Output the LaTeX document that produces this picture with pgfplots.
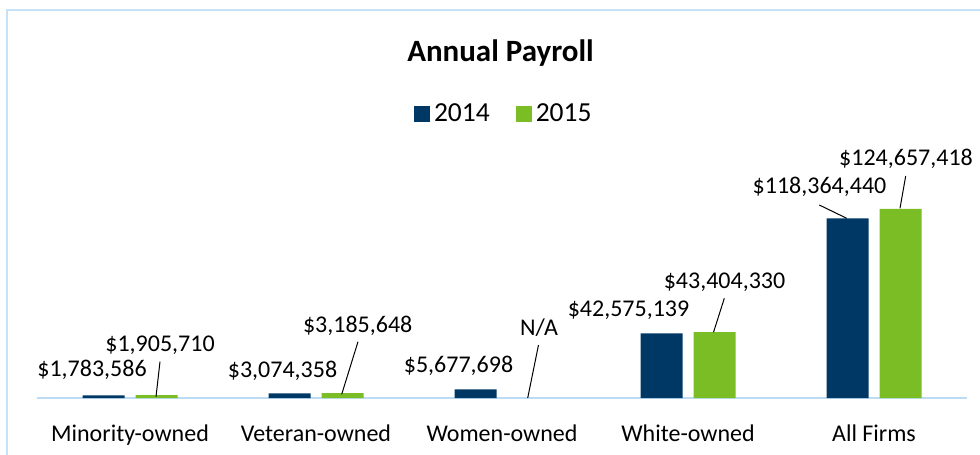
\documentclass[border=0pt]{standalone}
\usepackage{fontspec}
\setmainfont{Carlito}
\usepackage{pgfplots}
\pgfplotsset{compat=1.18}
\definecolor{navy}{HTML}{003865}
\definecolor{lgreen}{HTML}{7ABD24}
\definecolor{framecol}{HTML}{C6E2F8}
\definecolor{basecol}{HTML}{BDDCF4}
\tikzset{dl/.style={anchor=base, inner sep=0pt, font=\fontsize{12}{14}\selectfont}}
\begin{document}
\begin{tikzpicture}[x=0.5pt,y=0.5pt]
\useasboundingbox (0,0) rectangle (980,455);
\clip (0,0) rectangle (980,455);
\draw[framecol, line width=1pt] (7,-20) -- (7,444.5) -- (1000,444.5);
\node[anchor=base, inner sep=0pt, font=\fontsize{15.5}{18}\selectfont\bfseries] at (500.5,393.3) {Annual Payroll};
\begin{axis}[
  at={(18.5pt,28.5pt)}, anchor=south west,
  scale only axis, width=465pt, height=129pt,
  xmin=-0.5, xmax=4.5, ymin=0, ymax=170e6,
  ybar=5.5pt, bar width=21pt,
  axis x line=bottom, axis y line=none,
  x axis line style={draw=basecol, line width=0.75pt, -},
  xtick={0,1,2,3,4},
  xticklabels={Minority-owned,Veteran-owned,Women-owned,White-owned,All Firms},
  xtick style={draw=none},
  xticklabel style={anchor=base, yshift=-19.5pt, inner sep=0pt, font=\fontsize{12}{14}\selectfont},
  ytick=\empty,
  clip=false,
  legend style={at={(0.503,1.099)}, anchor=center, draw=none, fill=none,
    legend columns=2, font=\fontsize{13.75}{16}\selectfont,
    /tikz/every even column/.append style={column sep=11pt}},
]
\addplot[fill=navy, draw=none,
  legend image code/.code={\fill[navy] (0pt,-4pt) rectangle (8pt,4pt);}]
  coordinates {(0,1783586) (1,3074358) (2,5677698) (3,42575139) (4,118364440)};
\addlegendentry{2014}
\addplot[fill=lgreen, draw=none,
  legend image code/.code={\fill[lgreen] (0pt,-4pt) rectangle (8pt,4pt);}]
  coordinates {(0,1905710) (1,3185648) (3,43404330) (4,124657418)};
\addlegendentry{2015}

\node[dl] at (axis cs:-0.2043,13.84e6) {\$1,783,586};
\node[dl] at (axis cs:0.1613,30.51e6) {\$1,905,710};
\node[dl] at (axis cs:0.8199,13.18e6) {\$3,074,358};
\node[dl] at (axis cs:1.2242,43.29e6) {\$3,185,648};
\node[dl] at (axis cs:1.7661,16.67e6) {\$5,677,698};
\node[dl] at (axis cs:2.1989,41.51e6) {N/A};
\node[dl] at (axis cs:2.6801,54.03e6) {\$42,575,139};
\node[dl] at (axis cs:3.1962,72.28e6) {\$43,404,330};
\node[dl] at (axis cs:3.7070,134.42e6) {\$118,364,440};
\node[dl] at (axis cs:4.1720,153.52e6) {\$124,657,418};

\draw[black, line width=0.5pt] (axis cs:0.1613,23.92e6) -- (axis cs:0.1398,0.86e6);
\draw[black, line width=0.5pt] (axis cs:1.2258,37.10e6) -- (axis cs:1.1382,2.44e6);
\draw[black, line width=0.5pt] (axis cs:2.1962,34.92e6) -- (axis cs:2.1382,0);
\draw[black, line width=0.5pt] (axis cs:3.1952,65.69e6) -- (axis cs:3.1371,43.29e6);
\draw[black, line width=0.5pt] (axis cs:3.7059,127.17e6) -- (axis cs:3.8532,118.4e6);
\draw[black, line width=0.5pt] (axis cs:4.1704,146.28e6) -- (axis cs:4.1398,125.0e6);
\end{axis}
\end{tikzpicture}
\end{document}
